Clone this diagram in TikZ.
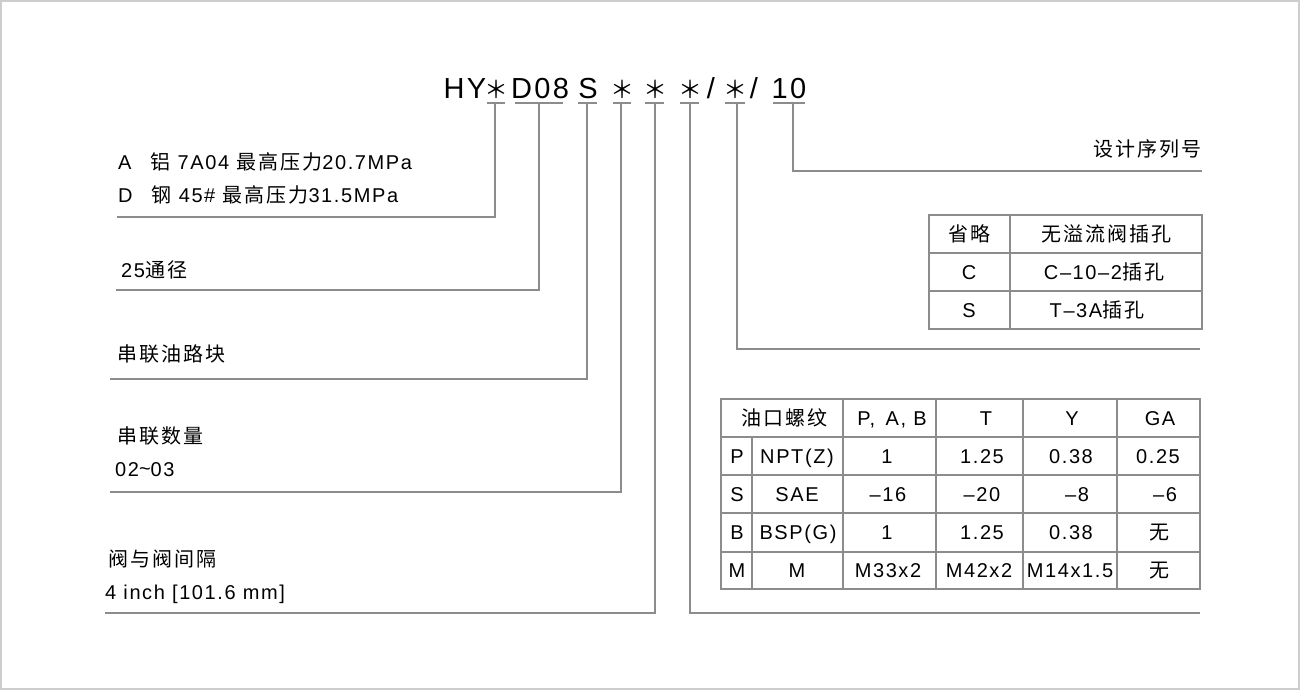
\documentclass[tikz,border=0pt]{standalone}
\usepackage{fontspec}
\setmainfont{Liberation Sans}[LetterSpace=8]
\newfontfamily\cjk{Noto Sans CJK SC}[LetterSpace=10]
\newfontfamily\cjkstar{Noto Sans CJK SC}
\newcommand{\zh}[1]{{\cjk #1}}
\definecolor{linegray}{RGB}{140,140,140}
\definecolor{framegray}{RGB}{205,205,205}

\begin{document}
\begin{tikzpicture}[x=1pt, y=-1pt,
	lbl/.style={anchor=base west, inner sep=0pt, font=\fontsize{20}{24}\selectfont},
	cell/.style={anchor=base, inner sep=0pt, font=\fontsize{20}{24}\selectfont},
	code/.style={anchor=base, inner sep=0pt, font=\fontsize{29}{34}\selectfont},
	codestar/.style={code, font=\fontsize{24}{28}\cjkstar},
	guide/.style={draw=linegray, line width=1.3pt}]
	\useasboundingbox (0,0) rectangle (1300,690);
	\draw [draw=framegray, line width=2pt] (1,1) rectangle (1299,689);

	% model code
	\node [code] (hy) at (465,99) {HY};
	\node [codestar] (st1) at (496,99) {\makebox[16pt]{＊}};
	\node [code] (d08) at (540,99) {D08};
	\node [code] (sc) at (588,99) {S};
	\node [codestar] (st2) at (622,99) {\makebox[16pt]{＊}};
	\node [codestar] (st3) at (655,99) {\makebox[16pt]{＊}};
	\node [codestar] (st4) at (690,99) {\makebox[16pt]{＊}};
	\node [code] (sl1) at (711,99) {/};
	\node [codestar] (st5) at (735,99) {\makebox[16pt]{＊}};
	\node [code] (sl2) at (754,99) {/};
	\node [code] (ten) at (789,99) {10};

	\draw [guide] (487,103) -- (505,103);
	\draw [guide] (515,103) -- (563,103);
	\draw [guide] (578,103) -- (597,103);
	\draw [guide] (613,103) -- (631,103);
	\draw [guide] (645,103) -- (664,103);
	\draw [guide] (680,103) -- (699,103);
	\draw [guide] (725,103) -- (745,103);
	\draw [guide] (773,103) -- (805,103);

	\coordinate (k1) at (495,103);
	\coordinate (k2) at (539,103);
	\coordinate (k3) at (587,103);
	\coordinate (k4) at (621,103);
	\coordinate (k5) at (655,103);
	\coordinate (k6) at (690,103);
	\coordinate (k7) at (737,103);
	\coordinate (k8) at (793,103);

	\coordinate (e1) at (117,217);
	\coordinate (e2) at (116,290);
	\coordinate (e3) at (110,379);
	\coordinate (e4) at (110,492);
	\coordinate (e5) at (105,613);
	\coordinate (e6) at (1200,613);
	\coordinate (e7) at (1200,349);
	\coordinate (e8) at (1202,171);

	\draw [guide] (k1) |- (e1);
	\draw [guide] (k2) |- (e2);
	\draw [guide] (k3) |- (e3);
	\draw [guide] (k4) |- (e4);
	\draw [guide] (k5) |- (e5);
	\draw [guide] (k6) |- (e6);
	\draw [guide] (k7) |- (e7);
	\draw [guide] (k8) |- (e8);

	% left labels
	\node [lbl] (matA) at (118,169) {A\hspace{19pt}\zh{铝} 7A04 \zh{最高压力}20.7MPa};
	\node [lbl] (matD) at (118,202) {D\hspace{19pt}\zh{钢} 45\# \zh{最高压力}31.5MPa};
	\node [lbl] (bore) at (121,277) {25\zh{通径}};
	\node [lbl] (block) at (117,361) {\zh{串联油路块}};
	\node [lbl] (count) at (117,443) {\zh{串联数量}};
	\node [lbl] (countv) at (115,476) {02\raisebox{1pt}{\~{}}03};
	\node [lbl] (pitch) at (108,566) {\zh{阀与阀间隔}};
	\node [lbl] (pitchv) at (105,599) {4 inch [101.6 mm]};
	\node [lbl, anchor=base east] (serial) at (1202,157) {\zh{设计序列号}};

	% relief valve cavity table
	\draw [guide] (929,215) rectangle (1202,329);
	\draw [guide] (929,253) -- (1202,253);
	\draw [guide] (929,291) -- (1202,291);
	\draw [guide] (1010,215) -- (1010,329);
	\node [cell] (ca1) at (969,241) {\zh{省略}};
	\node [cell] (cb1) at (1106,241) {\zh{无溢流阀插孔}};
	\node [cell] (ca2) at (969,279) {C};
	\node [cell] (cb2) at (1104,279) {C–10–2\zh{插孔}};
	\node [cell] (ca3) at (969,317) {S};
	\node [cell] (cb3) at (1097,317) {T–3A\zh{插孔}};

	% port thread table
	\draw [guide] (721,399) rectangle (1200,589);
	\draw [guide] (721,437) -- (1200,437);
	\draw [guide] (721,475) -- (1200,475);
	\draw [guide] (721,513) -- (1200,513);
	\draw [guide] (721,552) -- (1200,552);
	\draw [guide] (752,437) -- (752,589);
	\draw [guide] (843,399) -- (843,589);
	\draw [guide] (936,399) -- (936,589);
	\draw [guide] (1023,399) -- (1023,589);
	\draw [guide] (1117,399) -- (1117,589);

	\node [cell] (h0) at (784,425) {\zh{油口螺纹}};
	\node [cell] (h1) at (892,425) {P,\, A, B};
	\node [cell] (h2) at (986,425) {T};
	\node [cell] (h3) at (1072,425) {Y};
	\node [cell] (h4) at (1160,425) {GA};

	\node [cell] (p0) at (737,463) {P};
	\node [cell] (p1) at (797,463) {NPT(Z)};
	\node [cell] (p2) at (887,463) {1};
	\node [cell] (p3) at (982,463) {1.25};
	\node [cell] (p4) at (1071,463) {0.38};
	\node [cell] (p5) at (1158,463) {0.25};

	\node [cell] (s0) at (737,501) {S};
	\node [cell] (s1) at (797,501) {SAE};
	\node [cell] (s2) at (888,501) {–16};
	\node [cell] (s3) at (982,501) {–20};
	\node [cell] (s4) at (1077,501) {–8};
	\node [cell] (s5) at (1165,501) {–6};

	\node [cell] (b0) at (737,539) {B};
	\node [cell] (b1) at (798,539) {BSP(G)};
	\node [cell] (b2) at (887,539) {1};
	\node [cell] (b3) at (982,539) {1.25};
	\node [cell] (b4) at (1071,539) {0.38};
	\node [cell] (b5) at (1159,539) {\zh{无}};

	\node [cell] (m0) at (737,577) {M};
	\node [cell] (m1) at (797,577) {M};
	\node [cell] (m2) at (888,577) {M33x2};
	\node [cell] (m3) at (979,577) {M42x2};
	\node [cell] (m4) at (1070,577) {M14x1.5};
	\node [cell] (m5) at (1159,577) {\zh{无}};
\end{tikzpicture}
\end{document}
